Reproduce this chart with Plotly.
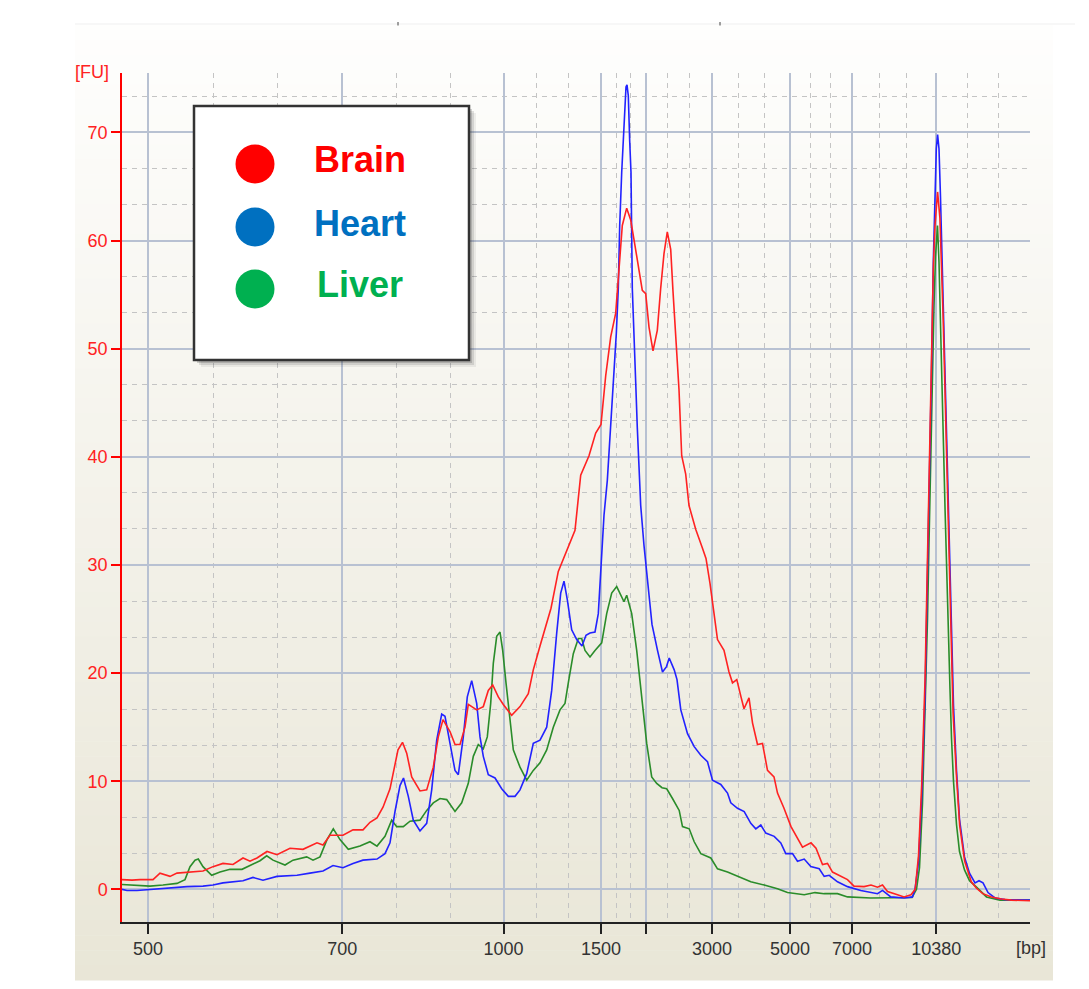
import plotly.graph_objects as go

# ---------------- data ----------------
series_names = ["Brain", "Heart", "Liver"]
legend_colors = ["#FF0000", "#0070C0", "#00B050"]
line_colors = ["#FF2222", "#2222FF", "#2A8C2A"]

# ladder sizes (bp) and their migration times (s) on the linear time axis
ladder_labels = ["500", "700", "1000", "1500", "", "3000", "5000", "7000", "10380"]
ladder_times = [42.6, 62.03, 78.15, 87.9, 92.43, 99.0, 106.8, 113.0, 121.42]
minor_times = [49.1, 55.5, 67.4, 72.8, 81.4, 84.6, 89.4, 90.8, 94.5, 96.7,
               101.6, 104.2, 108.8, 110.8, 115.7, 118.4, 124.5, 127.6]
fu_ticks = [0, 10, 20, 30, 40, 50, 60, 70]

brain_t = [40.0, 41.0, 41.8, 43.1, 43.8, 44.8, 45.5, 46.5, 48.1, 49.1,
           50.1, 51.1, 52.1, 52.8, 53.5, 54.5, 55.5, 56.8, 58.1, 59.5,
           60.1, 60.8, 62.1, 63.1, 64.1, 64.8, 65.5, 66.1, 66.8, 67.6,
           68.05, 68.47, 68.97, 69.8, 70.47, 71.13, 71.63, 72.1, 72.8, 73.3,
           73.8, 74.3, 74.63, 75.47, 76.13, 76.63, 77.07, 77.63, 78.13, 78.97,
           79.8, 80.63, 81.13, 81.8, 82.47, 82.9, 83.63, 84.47, 85.3, 85.87,
           86.7, 87.37, 87.9, 88.37, 88.87, 89.37, 89.7, 90.03, 90.47, 90.87,
           91.2, 91.53, 92.03, 92.37, 92.7, 93.1, 93.53, 93.87, 94.2, 94.53,
           94.87, 95.1, 95.37, 95.7, 95.97, 96.37, 96.7, 97.37, 98.03, 98.4,
           98.8, 99.2, 99.55, 100.2, 100.7, 101.05, 101.48, 101.9, 102.2, 102.7,
           103.05, 103.55, 104.05, 104.55, 105.2, 105.55, 106.2, 106.9, 107.55, 108.05,
           108.9, 109.4, 110.05, 110.55, 111.05, 111.9, 112.55, 113.2, 114.2, 114.9,
           115.55, 116.05, 116.55, 117.55, 118.2, 118.9, 119.32, 119.65, 119.97, 120.31,
           120.47, 120.64, 120.8, 120.97, 121.13, 121.3, 121.56, 121.79, 121.96, 122.12,
           122.29, 122.45, 122.62, 122.78, 122.95, 123.11, 123.44, 123.77, 124.27, 124.93,
           125.45, 126.08, 126.95, 127.95, 128.95, 130.8]
brain_fu = [0.9, 0.85, 0.9, 0.9, 1.5, 1.2, 1.5, 1.6, 1.7, 2.1,
            2.4, 2.3, 2.9, 2.6, 2.9, 3.5, 3.2, 3.8, 3.7, 4.3,
            4.1, 5.0, 5.0, 5.5, 5.5, 6.2, 6.6, 7.6, 9.3, 12.9,
            13.6, 12.6, 10.4, 9.1, 9.2, 11.3, 14.1, 15.7, 14.6, 13.4,
            13.4, 15.0, 17.1, 16.6, 16.9, 18.4, 18.9, 17.8, 17.1, 16.1,
            16.9, 18.1, 20.3, 22.5, 24.6, 26.0, 29.4, 31.3, 33.2, 38.3,
            40.1, 42.2, 43.0, 47.5, 51.1, 53.3, 57.2, 61.4, 63.0, 61.9,
            60.1, 58.2, 55.4, 55.1, 52.0, 49.8, 51.7, 55.6, 58.8, 60.8,
            59.2, 55.3, 50.7, 46.2, 40.1, 38.4, 35.5, 33.3, 31.6, 30.6,
            28.3, 25.5, 23.1, 22.1, 20.1, 19.1, 19.4, 17.8, 16.7, 17.7,
            15.4, 13.4, 13.5, 11.0, 10.4, 8.9, 7.5, 5.8, 4.7, 3.9,
            4.3, 3.8, 2.3, 2.4, 1.6, 1.2, 0.9, 0.3, 0.25, 0.4,
            0.2, 0.4, -0.2, -0.5, -0.7, -0.5, 0.0, 3.1, 9.7, 19.6,
            26.7, 33.8, 39.9, 48.4, 57.4, 61.4, 64.5, 62.1, 57.9, 52.7,
            46.5, 40.4, 34.2, 27.6, 21.5, 16.3, 10.6, 5.9, 2.6, 0.7,
            0.1, -0.4, -0.7, -0.9, -1.0, -1.05]

heart_t = [40.0, 40.5, 41.5, 42.8, 44.8, 46.5, 48.1, 49.1, 50.1, 52.1,
           53.1, 54.1, 55.5, 57.5, 58.8, 60.1, 61.1, 62.1, 63.1, 64.1,
           65.5, 66.3, 66.8, 67.3, 67.8, 68.15, 68.63, 69.13, 69.8, 70.47,
           70.97, 71.47, 71.97, 72.3, 72.8, 73.3, 73.63, 74.13, 74.53, 74.97,
           75.47, 75.8, 76.13, 76.63, 77.3, 77.97, 78.63, 79.3, 79.8, 80.47,
           81.13, 81.8, 82.47, 82.97, 83.47, 83.87, 84.2, 84.53, 84.97, 85.47,
           86.0, 86.4, 86.8, 87.3, 87.63, 87.87, 88.2, 88.53, 88.87, 89.2,
           89.43, 89.63, 89.77, 89.97, 90.13, 90.3, 90.4, 90.5, 90.63, 90.77,
           90.9, 91.03, 91.2, 91.37, 91.53, 91.87, 92.2, 92.55, 93.0, 93.55,
           94.05, 94.45, 94.72, 95.22, 95.5, 95.88, 96.55, 97.22, 97.88, 98.55,
           99.05, 99.88, 100.55, 100.88, 101.55, 102.22, 102.88, 103.38, 103.88, 104.38,
           105.22, 105.88, 106.38, 107.05, 107.55, 108.22, 108.88, 109.72, 110.22, 110.72,
           111.55, 112.55, 113.88, 115.55, 116.05, 116.88, 118.22, 119.05, 119.3, 119.65,
           119.97, 120.31, 120.47, 120.64, 120.8, 120.97, 121.13, 121.3, 121.43, 121.56,
           121.7, 121.85, 122.0, 122.15, 122.31, 122.48, 122.65, 122.81, 122.98, 123.15,
           123.45, 123.75, 124.25, 124.75, 125.3, 125.7, 126.1, 126.6, 127.3, 128.3,
           130.8]
heart_fu = [0.0, -0.1, -0.1, 0.0, 0.1, 0.25, 0.3, 0.4, 0.6, 0.8,
            1.1, 0.85, 1.2, 1.3, 1.5, 1.7, 2.2, 2.0, 2.4, 2.7,
            2.8, 3.3, 4.3, 7.2, 9.6, 10.3, 8.6, 6.4, 5.4, 6.1,
            9.2, 13.8, 16.2, 16.0, 13.5, 11.0, 10.6, 14.1, 17.8, 19.3,
            17.2, 14.1, 12.3, 10.6, 10.3, 9.3, 8.6, 8.6, 9.2, 10.7,
            13.5, 13.8, 15.0, 18.4, 23.7, 27.4, 28.5, 26.8, 24.0, 23.1,
            22.5, 23.5, 23.7, 23.8, 25.5, 29.0, 34.6, 37.8, 42.7, 47.5,
            51.4, 55.6, 61.4, 66.3, 68.9, 72.1, 74.2, 74.4, 73.4, 69.2,
            66.3, 55.6, 52.0, 46.9, 42.7, 35.5, 31.8, 28.3, 24.5, 22.1,
            20.1, 20.6, 21.4, 20.3, 19.4, 16.6, 14.4, 13.2, 12.4, 11.8,
            10.1, 9.7, 8.9, 8.0, 7.5, 7.2, 6.1, 5.6, 5.95, 5.2,
            4.9, 4.3, 3.3, 3.3, 2.6, 2.8, 2.1, 1.9, 1.2, 1.3,
            0.7, 0.25, -0.1, -0.4, -0.1, -0.7, -0.8, -0.7, 0.0, 2.5,
            8.5, 18.0, 25.0, 33.0, 40.0, 49.0, 58.0, 64.5, 68.5, 69.8,
            68.5, 64.0, 58.5, 53.0, 47.0, 41.0, 34.8, 28.3, 22.0, 17.0,
            11.0, 6.5, 3.0, 1.5, 0.6, 0.8, 0.6, -0.3, -0.8, -0.95,
            -1.0]

liver_t = [40.0, 41.3, 42.8, 44.1, 45.5, 46.3, 46.8, 47.3, 47.63, 48.1,
           48.97, 49.8, 50.8, 52.0, 52.97, 53.8, 54.47, 55.1, 56.3, 57.1,
           58.47, 59.1, 59.8, 60.5, 61.13, 61.8, 62.63, 63.8, 64.8, 65.5,
           66.3, 66.97, 67.47, 68.13, 68.8, 69.8, 70.47, 71.13, 71.8, 72.47,
           73.3, 73.97, 74.63, 75.13, 75.63, 76.13, 76.53, 76.87, 77.13, 77.47,
           77.8, 78.07, 78.4, 78.8, 79.13, 79.8, 80.47, 81.13, 81.8, 82.47,
           83.13, 83.8, 84.3, 84.63, 85.13, 85.63, 85.97, 86.3, 86.8, 87.3,
           87.97, 88.47, 88.97, 89.47, 89.97, 90.2, 90.47, 90.97, 91.47, 91.97,
           92.47, 92.97, 93.47, 94.0, 94.47, 95.05, 95.72, 96.05, 96.72, 97.22,
           97.88, 98.88, 99.55, 100.55, 101.55, 102.88, 104.22, 105.55, 106.55, 108.22,
           109.3, 110.22, 111.55, 112.55, 114.88, 118.22, 119.0, 119.45, 119.75, 120.05,
           120.35, 120.55, 120.7, 120.85, 121.03, 121.2, 121.35, 121.55, 121.7, 121.85,
           122.0, 122.15, 122.31, 122.47, 122.64, 122.8, 122.95, 123.15, 123.45, 123.75,
           124.25, 124.75, 125.45, 126.45, 127.8, 130.8]
liver_fu = [0.45, 0.37, 0.3, 0.4, 0.55, 0.9, 2.1, 2.7, 2.8, 2.1,
            1.3, 1.6, 1.85, 1.85, 2.25, 2.65, 3.1, 2.7, 2.25, 2.7,
            3.0, 2.7, 3.0, 4.6, 5.6, 4.6, 3.7, 4.0, 4.4, 4.0,
            4.9, 6.4, 5.8, 5.8, 6.3, 6.4, 7.3, 8.0, 8.4, 8.3,
            7.2, 8.0, 9.8, 12.3, 13.4, 13.0, 14.1, 17.2, 20.9, 23.4,
            23.8, 22.1, 19.1, 16.0, 12.9, 11.3, 10.1, 11.0, 11.7, 12.9,
            15.0, 16.6, 17.2, 19.1, 21.8, 23.2, 23.2, 22.1, 21.5, 22.1,
            22.8, 25.5, 27.4, 28.0, 27.1, 26.6, 27.2, 25.5, 22.1, 17.5,
            13.5, 10.4, 9.8, 9.4, 9.3, 8.4, 7.3, 5.8, 5.6, 4.4,
            3.3, 2.9, 1.9, 1.6, 1.2, 0.7, 0.4, 0.06, -0.3, -0.5,
            -0.3, -0.4, -0.4, -0.7, -0.8, -0.8, -0.75, 0.0, 2.0, 8.0,
            17.0, 25.0, 32.0, 39.0, 47.0, 54.0, 58.5, 61.4, 58.0, 53.0,
            47.0, 41.0, 35.0, 29.0, 23.0, 18.5, 14.0, 10.0, 6.0, 3.5,
            1.8, 0.8, 0.2, -0.7, -1.0, -1.0]

series_t = [brain_t, heart_t, liver_t]
series_fu = [brain_fu, heart_fu, liver_fu]

# ---------------- layout geometry ----------------
# the page body has an 8px margin, so the figure is placed at (8, 8)
OFF = 8
W, H = 1089 - OFF, 989 - OFF
L = 122 - OFF          # y-axis position on screen: 122
T = 73 - OFF           # plot top on screen: 73
B = H - (922 - OFF)    # x-axis position on screen: 922
R = W - (1030 - OFF)   # plot right end on screen: 1030
PW = W - L - R
PH = H - T - B


def xp(px):
    """screen x pixel -> paper coordinate"""
    return (px - OFF - L) / PW


def yp(py):
    """screen y pixel -> paper coordinate"""
    return (H - B - (py - OFF)) / PH


fig = go.Figure()

# draw order: Liver, Heart, Brain (Brain on top)
for i in [2, 1, 0]:
    fig.add_trace(go.Scatter(
        x=series_t[i], y=series_fu[i], mode="lines", name=series_names[i],
        line=dict(color=line_colors[i], width=1.6), showlegend=False,
        hoverinfo="skip"))

shapes = []
# gradient background frame
top_rgb = (254, 254, 253)
bot_rgb = (233, 230, 215)
n = 64
y_top, y_bot = 25, 980
for k in range(n):
    a = y_top + (y_bot - y_top) * k / n
    b = y_top + (y_bot - y_top) * (k + 1) / n
    f = (k + 0.5) / n
    c = tuple(round(u + (v - u) * f) for u, v in zip(top_rgb, bot_rgb))
    shapes.append(dict(type="rect", xref="paper", yref="paper",
                       x0=xp(75), x1=xp(1053), y0=yp(b + 0.6), y1=yp(a),
                       fillcolor="rgb(%d,%d,%d)" % c, line=dict(width=0),
                       layer="below"))

# faint top line with small marks
shapes.append(dict(type="line", xref="paper", yref="paper", x0=xp(75), x1=xp(1075),
                   y0=yp(24), y1=yp(24), line=dict(color="#EFEFEF", width=1), layer="below"))
for mx in (398, 720):
    shapes.append(dict(type="line", xref="paper", yref="paper", x0=xp(mx), x1=xp(mx),
                       y0=yp(22), y1=yp(25.5), line=dict(color="#444", width=1)))

# legend box with shadow
bx0, bx1, by0, by1 = 194, 469, 106, 360
for off, op in ((7, 0.08), (5, 0.14), (3, 0.22)):
    shapes.append(dict(type="rect", xref="paper", yref="paper",
                       x0=xp(bx0 + off), x1=xp(bx1 + off), y0=yp(by1 + off), y1=yp(by0 + off),
                       fillcolor="rgba(60,60,60,%.2f)" % op, line=dict(width=0)))
shapes.append(dict(type="rect", xref="paper", yref="paper",
                   x0=xp(bx0), x1=xp(bx1), y0=yp(by1), y1=yp(by0),
                   fillcolor="white", line=dict(color="#333333", width=2.5)))

annotations = []
circle_y = [164, 227, 289]
text_y = [159, 223, 284]
rad = 19.5
for i, name in enumerate(series_names):
    cx, cy = 255, circle_y[i]
    shapes.append(dict(type="circle", xref="paper", yref="paper",
                       x0=xp(cx - rad), x1=xp(cx + rad), y0=yp(cy + rad), y1=yp(cy - rad),
                       fillcolor=legend_colors[i], line=dict(width=0)))
    annotations.append(dict(xref="paper", yref="paper", x=xp(360), y=yp(text_y[i]),
                            text="<b>%s</b>" % name, showarrow=False,
                            xanchor="center", yanchor="middle",
                            font=dict(family="Liberation Sans, Arial, sans-serif",
                                      size=36, color=legend_colors[i])))

axis_font = "Liberation Sans, Arial, sans-serif"
annotations.append(dict(xref="paper", yref="paper", x=xp(92), y=yp(72), text="[FU]",
                        showarrow=False, xanchor="center", yanchor="middle",
                        font=dict(family=axis_font, size=18, color="#FF2222")))
annotations.append(dict(xref="paper", yref="paper", x=xp(1031), y=yp(948), text="[bp]",
                        showarrow=False, xanchor="center", yanchor="middle",
                        font=dict(family=axis_font, size=18, color="#333333")))

y_minor = [round(v + d, 4) for v in range(0, 80, 10) for d in (10 / 3, 20 / 3)]

fig.update_layout(
    width=W, height=H,
    margin=dict(l=L, r=R, t=T, b=B, pad=0),
    paper_bgcolor="white",
    plot_bgcolor="rgba(0,0,0,0)",
    shapes=shapes,
    annotations=annotations,
    showlegend=False,
    xaxis=dict(
        range=[40, 130.8], showline=True, linecolor="#222222", linewidth=1.5,
        tickmode="array", tickvals=ladder_times, ticktext=ladder_labels,
        ticks="outside", ticklen=10, tickwidth=1.5, tickcolor="#222222",
        tickfont=dict(family=axis_font, size=18, color="#333333"),
        showgrid=True, gridcolor="#B8C1D2", gridwidth=1.6, zeroline=False,
        minor=dict(tickmode="array", tickvals=minor_times, showgrid=True,
                   gridcolor="#C4C4C4", griddash="5px,5px", gridwidth=1.2, ticks=""),
    ),
    yaxis=dict(
        range=[-3.02, 75.5], showline=True, linecolor="#FF0000", linewidth=1.5,
        tickmode="array", tickvals=fu_ticks,
        ticks="outside", ticklen=9, tickwidth=1.5, tickcolor="#FF0000",
        tickfont=dict(family=axis_font, size=18, color="#FF2222"),
        showgrid=True, gridcolor="#B8C1D2", gridwidth=1.6, zeroline=False,
        minor=dict(tickmode="array", tickvals=y_minor, showgrid=True,
                   gridcolor="#C4C4C4", griddash="5px,5px", gridwidth=1.2, ticks=""),
    ),
)

fig.write_html("out.html")
